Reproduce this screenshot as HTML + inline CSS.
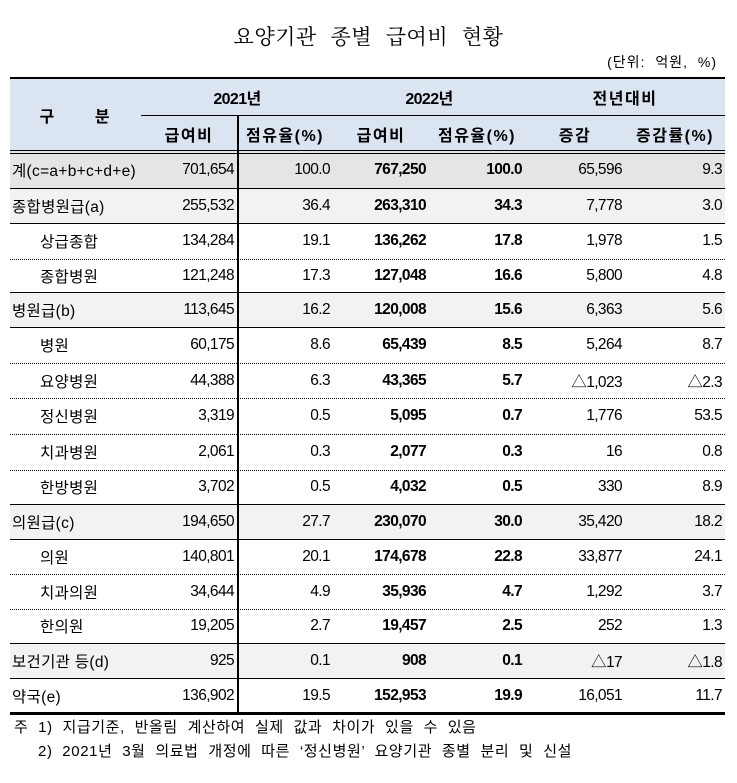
<!DOCTYPE html>
<html><head><meta charset="utf-8">
<style>
html,body{margin:0;padding:0;background:#fff;width:737px;height:783px;overflow:hidden;position:relative;font-family:"Liberation Sans","Noto Sans CJK KR",sans-serif;color:#000}
.title{position:absolute;left:0;width:737px;top:21px;text-align:center;font-family:"Liberation Serif","Noto Serif CJK SC",serif;font-size:21px;word-spacing:8px;letter-spacing:0.5px}
.unit{position:absolute;right:20px;top:52px;font-size:14px;letter-spacing:1px;word-spacing:5px}
.cell{position:absolute;display:flex;align-items:center;font-size:15.5px;box-sizing:border-box;letter-spacing:-0.6px}
.r{justify-content:flex-end;padding-right:3px}
.c{justify-content:center}
.b{font-weight:bold}
.note{position:absolute;font-size:15px;left:14px;letter-spacing:0.6px;word-spacing:5px}
</style></head><body>
<div class="title">요양기관 종별 급여비 현황</div>
<div class="unit">(단위: 억원, %)</div>
<div id="t"></div>
<div class="note" style="top:716px">주 1) 지급기준, 반올림 계산하여 실제 값과 차이가 있을 수 있음</div>
<div class="note" style="top:740px;left:38px">2) 2021년 3월 의료법 개정에 따른 ‘정신병원’ 요양기관 종별 분리 및 신설</div>
<script>
var t=document.getElementById('t'),h='';
var X=[10,141,237,333,429,525,625,725];
var Y=[152,188,223,259,292,327,363,398,434,470,504,539,574,609,643,678,713];
function box(x,y,w,hh,bg){h+='<div style="position:absolute;left:'+x+'px;top:'+y+'px;width:'+w+'px;height:'+hh+'px;background:'+bg+'"></div>';}
function cell(x,y,w,hh,cls,txt,extra){h+='<div class="cell '+cls+'" style="left:'+x+'px;top:'+y+'px;width:'+w+'px;height:'+hh+'px;'+(extra||'')+'">'+txt+'</div>';}
box(10,78,715,74,'#dbe5f1');
var rows=[
['계(c=a+b+c+d+e)','701,654','100.0','767,250','100.0','65,596','9.3',0,'#e5e5e5'],
['종합병원급(a)','255,532','36.4','263,310','34.3','7,778','3.0',0,'#f2f2f2'],
['상급종합','134,284','19.1','136,262','17.8','1,978','1.5',1,''],
['종합병원','121,248','17.3','127,048','16.6','5,800','4.8',1,''],
['병원급(b)','113,645','16.2','120,008','15.6','6,363','5.6',0,'#f2f2f2'],
['병원','60,175','8.6','65,439','8.5','5,264','8.7',1,''],
['요양병원','44,388','6.3','43,365','5.7','△1,023','△2.3',1,''],
['정신병원','3,319','0.5','5,095','0.7','1,776','53.5',1,''],
['치과병원','2,061','0.3','2,077','0.3','16','0.8',1,''],
['한방병원','3,702','0.5','4,032','0.5','330','8.9',1,''],
['의원급(c)','194,650','27.7','230,070','30.0','35,420','18.2',0,'#f2f2f2'],
['의원','140,801','20.1','174,678','22.8','33,877','24.1',1,''],
['치과의원','34,644','4.9','35,936','4.7','1,292','3.7',1,''],
['한의원','19,205','2.7','19,457','2.5','252','1.3',1,''],
['보건기관 등(d)','925','0.1','908','0.1','△17','△1.8',0,'#f2f2f2'],
['약국(e)','136,902','19.5','152,953','19.9','16,051','11.7',0,'']];
rows.forEach(function(r,i){
 var y=Y[i],hh=Y[i+1]-Y[i];
 if(r[8])box(10,y,715,hh,r[8]);
 cell(r[7]?40:10,y,131,hh,'', r[0],'letter-spacing:0.3px;padding-left:'+(r[7]?0:2)+'px');
 for(var j=1;j<=6;j++)cell(X[j],y,X[j+1]-X[j],hh,'r'+(j==3||j==4?' b':''),r[j]);
 if(i>0){
  if(r[7]&&rows[i-1][7]) h+='<div style="position:absolute;left:10px;top:'+y+'px;width:715px;border-top:1px dotted #000"></div>';
  else box(10,y,715,1,'#000');
 }
});
cell(10,78,131,74,'c','구&nbsp;&nbsp;&nbsp;&nbsp;&nbsp;&nbsp;분','font-weight:bold;letter-spacing:2px;font-size:16px');
cell(141,78,192,38,'c b','2021년','font-size:16px');cell(333,78,192,38,'c b','2022년','font-size:16px');cell(525,78,200,38,'c b','전년대비','font-size:16px;letter-spacing:1.5px');
var sub=['급여비','점유율(%)','급여비','점유율(%)','증감','증감률(%)'];
for(var j=0;j<6;j++)cell(X[j+1],116,X[j+2]-X[j+1],36,'c b',sub[j],'letter-spacing:1.5px;font-size:16px');
box(141,115,584,1,'#000');
box(10,77,715,2,'#000');
box(10,150,715,1,'#000');box(10,153,715,1,'#000');
box(10,712,715,3,'#000');
for(var j=1;j<7;j++){var top=(j==2||j==4||j==6)?116:78;box(X[j],top,1,713-top,'#000');}
box(237,116,2,597,'#000');
t.innerHTML=h;
</script>
</body></html>
